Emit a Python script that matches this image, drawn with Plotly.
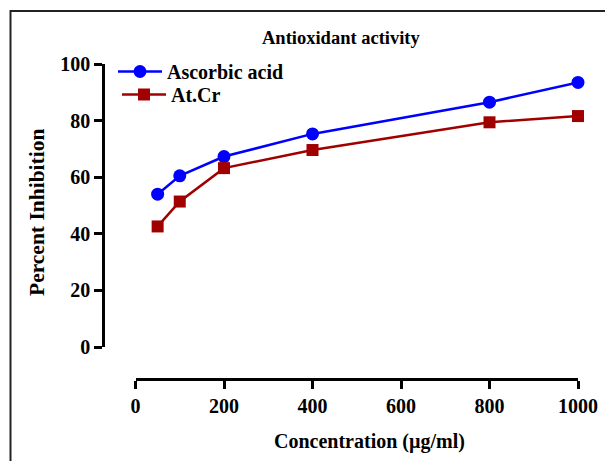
import plotly.graph_objects as go

concentration = [50, 100, 200, 400, 800, 1000]
ascorbic_acid = [54.0, 60.5, 67.3, 75.3, 86.5, 93.5]
at_cr = [42.6, 51.4, 63.2, 69.6, 79.4, 81.6]
x_ticks = [0, 200, 400, 600, 800, 1000]
y_ticks = [0, 20, 40, 60, 80, 100]

FONT = "Liberation Serif"
W, H = 605, 461
L, R, T, B = 103, 27, 64, 82
pw, ph = W - L - R, H - T - B

def fx(px):
    return (px - L) / pw

def fy(py):
    return (H - B - py) / ph

fig = go.Figure()
fig.add_trace(go.Scatter(
    x=concentration, y=ascorbic_acid, name="Ascorbic acid",
    mode="lines+markers", cliponaxis=False, legend="legend",
    line=dict(color="#0000FF", width=2.5),
    marker=dict(symbol="circle", size=13, color="#0000FF"),
))
fig.add_trace(go.Scatter(
    x=concentration, y=at_cr, name="At.Cr",
    mode="lines+markers", cliponaxis=False, legend="legend2",
    line=dict(color="#A00000", width=2.5),
    marker=dict(symbol="square", size=12, color="#A00000"),
))

legend_common = dict(
    xanchor="left", yanchor="top",
    font=dict(family=FONT, size=20, weight="bold", color="black"),
    bgcolor="rgba(0,0,0,0)", itemwidth=44,
)

fig.update_layout(
    width=W, height=H,
    margin=dict(l=L, r=R, t=T, b=B, pad=0),
    paper_bgcolor="white", plot_bgcolor="white",
    font=dict(family=FONT, color="black", size=20, weight="bold"),
    showlegend=True,
    legend=dict(x=fx(113), y=fy(52), **legend_common),
    legend2=dict(x=fx(117), y=fy(75), **legend_common),
    xaxis=dict(
        range=[0, 1000], domain=[fx(135.5), 1], anchor="free", position=0,
        tickvals=x_ticks, ticks="outside", ticklen=8, tickwidth=2.5,
        tickcolor="black", showline=True, linecolor="black", linewidth=2.5,
        showgrid=False, zeroline=False, automargin=False,
        tickfont=dict(family=FONT, size=20, weight="bold", color="black"),
    ),
    yaxis=dict(
        range=[0, 100], domain=[fy(347), 1], anchor="free", position=0,
        tickvals=y_ticks, ticks="outside", ticklen=8, tickwidth=2.5,
        tickcolor="black", showline=True, linecolor="black", linewidth=2.5,
        showgrid=False, zeroline=False, automargin=False,
        tickfont=dict(family=FONT, size=20, weight="bold", color="black"),
    ),
)

fig.add_annotation(
    text="Antioxidant activity", xref="paper", yref="paper",
    x=fx(341), y=fy(38), xanchor="center", yanchor="middle", showarrow=False,
    font=dict(family=FONT, size=18.5, weight="bold", color="black"),
)
fig.add_annotation(
    text="Concentration (\u00b5g/ml)", xref="paper", yref="paper",
    x=fx(369), y=fy(441), xanchor="center", yanchor="middle", showarrow=False,
    font=dict(family=FONT, size=20, weight="bold", color="black"),
)
fig.add_annotation(
    text="Percent Inhibition", xref="paper", yref="paper", textangle=-90,
    x=fx(37), y=fy(213), xanchor="center", yanchor="middle", showarrow=False,
    font=dict(family=FONT, size=21.5, weight="bold", color="black"),
)

# image frame (top and left edges)
fig.add_shape(
    type="path", xref="paper", yref="paper",
    path=f"M {fx(10.5)} {fy(470)} L {fx(10.5)} {fy(11)} L {fx(620)} {fy(11)}",
    line=dict(color="#222222", width=2),
)

fig.write_html(
    "out.html",
    config={"displayModeBar": False},
    post_script="document.body.style.margin='0';document.body.style.overflow='hidden';",
)
